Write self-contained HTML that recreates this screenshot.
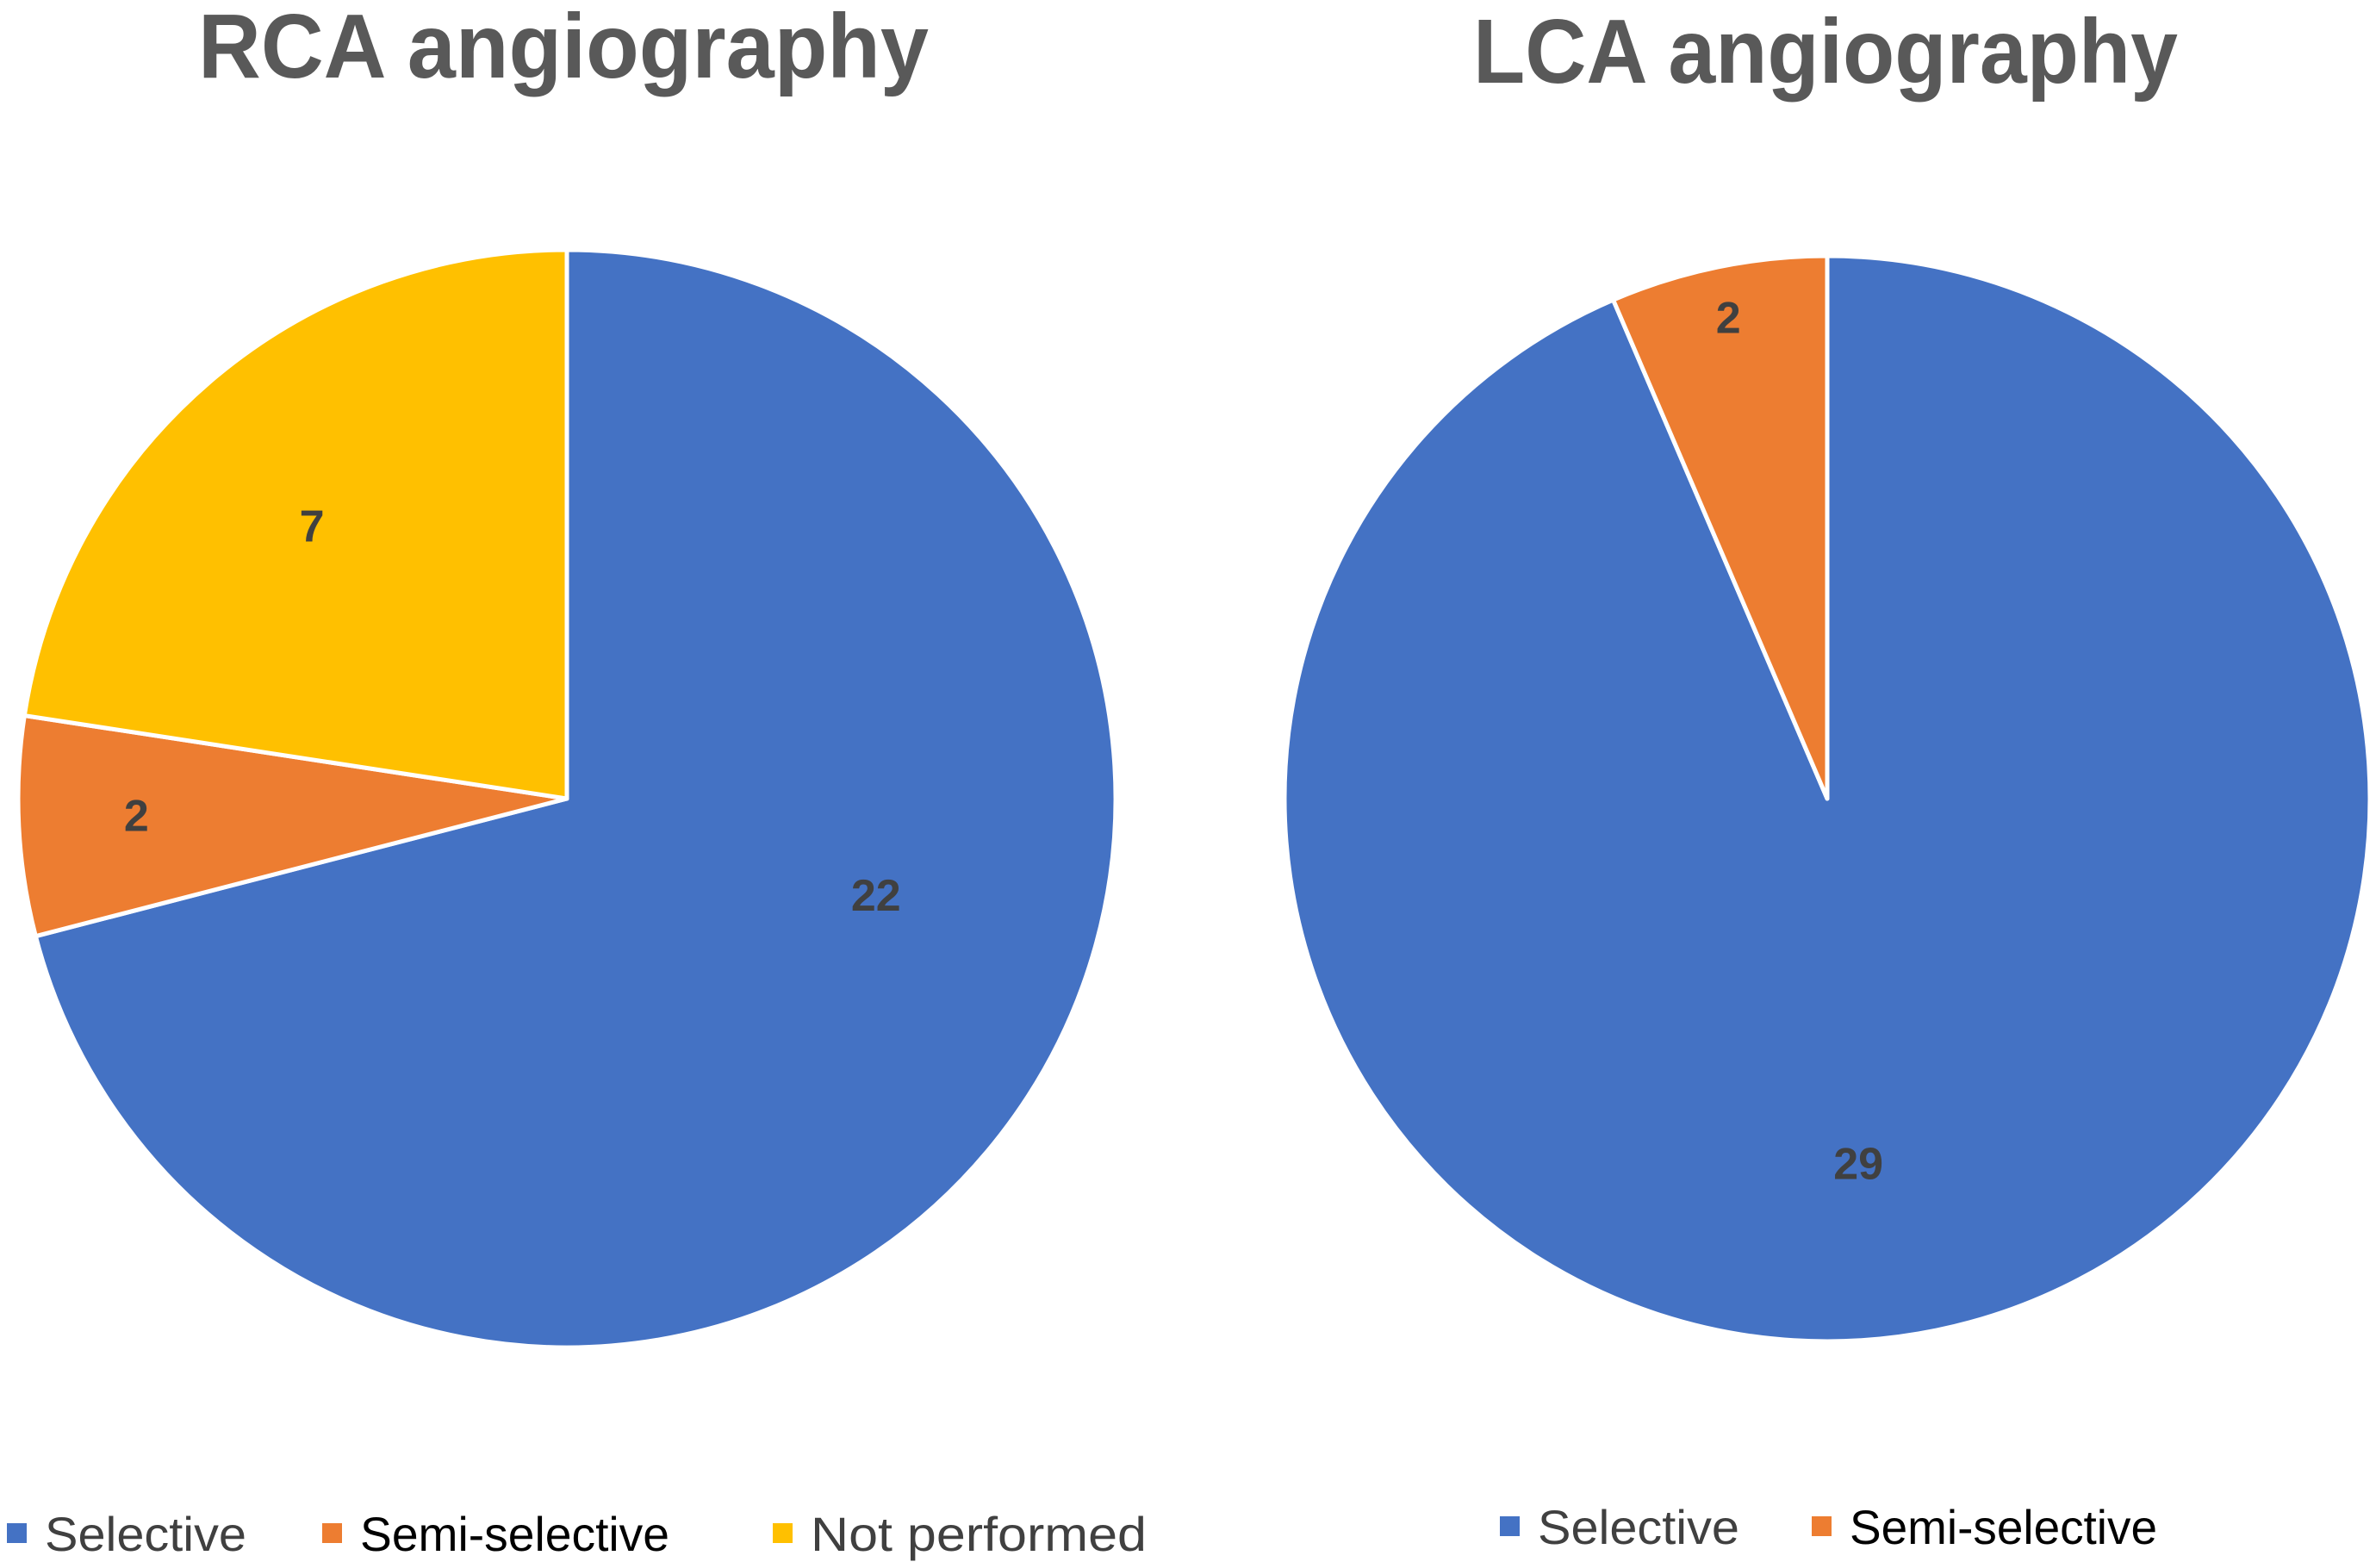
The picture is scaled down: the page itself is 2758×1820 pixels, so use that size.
<!DOCTYPE html>
<html><head><meta charset="utf-8"><style>
html,body{margin:0;padding:0;background:#fff;}
svg{display:block;}
</style></head><body>
<svg id="chart" width="2758" height="1820" viewBox="0 0 2758 1820" xmlns="http://www.w3.org/2000/svg">
<rect width="2758" height="1820" fill="#fff"/>
<text x="654" y="90" text-anchor="middle" font-family="Liberation Sans, sans-serif" font-weight="bold" font-size="106" fill="#595959" textLength="848" lengthAdjust="spacingAndGlyphs">RCA  angiography</text>
<text x="2119" y="96" text-anchor="middle" font-family="Liberation Sans, sans-serif" font-weight="bold" font-size="106" fill="#595959" textLength="818" lengthAdjust="spacingAndGlyphs">LCA angiography</text>
<g id="pies"></g>
<g id="legends"></g>
</svg>
<script>
const colors = ["#4472C4", "#ED7D31", "#FFC000"];
const rcaCategories = ["Selective", "Semi-selective", "Not performed"];
const rcaValues = [22, 2, 7];
const lcaCategories = ["Selective", "Semi-selective"];
const lcaValues = [29, 2];

const NS = "http://www.w3.org/2000/svg";
const pies = document.getElementById("pies");

function drawPie(name, cats, vals, cx, cy, r, labelFrac, labelT) {
  const total = vals.reduce((a, b) => a + b, 0);
  let a0 = 0;
  const g = document.createElementNS(NS, "g");
  
  
  pies.appendChild(g);
  vals.forEach((v, i) => {
    const a1 = a0 + v / total * Math.PI * 2;
    const x0 = cx + r * Math.sin(a0), y0 = cy - r * Math.cos(a0);
    const x1 = cx + r * Math.sin(a1), y1 = cy - r * Math.cos(a1);
    const large = (a1 - a0) > Math.PI ? 1 : 0;
    const p = document.createElementNS(NS, "path");
    p.setAttribute("d", `M${cx},${cy} L${x0},${y0} A${r},${r} 0 ${large} 1 ${x1},${y1} Z`);
    p.setAttribute("fill", colors[i]);
    p.setAttribute("stroke", "#fff");
    p.setAttribute("stroke-width", "5");
    p.setAttribute("stroke-linejoin", "round");
    
    
    g.appendChild(p);
    const am = a0 + (a1 - a0) * labelT[i];
    const lr = r * labelFrac[i];
    const t = document.createElementNS(NS, "text");
    t.setAttribute("x", cx + lr * Math.sin(am));
    t.setAttribute("y", cy - lr * Math.cos(am) + 18);
    t.setAttribute("text-anchor", "middle");
    t.setAttribute("font-family", "Liberation Sans, sans-serif");
    t.setAttribute("font-weight", "bold");
    t.setAttribute("font-size", "52");
    t.setAttribute("fill", "#404040");
    
    
    t.textContent = v;
    g.appendChild(t);
    a0 = a1;
  });
}
drawPie("rca-pie", rcaCategories, rcaValues, 658, 927, 637, [0.59, 0.785, 0.68], [0.42, 0.53, 0.47]);
drawPie("lca-pie", lcaCategories, lcaValues, 2121, 927, 630, [0.675, 0.905], [0.52, 0.5]);

const legends = document.getElementById("legends");
function drawLegend(name, cats, xs, widths, y) {
  const g = document.createElementNS(NS, "g");
  
  
  legends.appendChild(g);
  cats.forEach((c, i) => {
    const r = document.createElementNS(NS, "rect");
    r.setAttribute("x", xs[i]); r.setAttribute("y", y - 32);
    r.setAttribute("width", 23); r.setAttribute("height", 23);
    r.setAttribute("fill", colors[i]);
    
    
    g.appendChild(r);
    const t = document.createElementNS(NS, "text");
    t.setAttribute("x", xs[i] + 44); t.setAttribute("y", y);
    t.setAttribute("font-family", "Liberation Sans, sans-serif");
    t.setAttribute("font-size", "56");
    t.setAttribute("fill", i === 1 ? "#000" : "#404040");
    t.setAttribute("textLength", widths[i]);
    t.setAttribute("lengthAdjust", "spacingAndGlyphs");
    
    
    t.textContent = c;
    g.appendChild(t);
  });
}
drawLegend("rca-legend", rcaCategories, [8, 374, 897], [234, 359, 390], 1800);
drawLegend("lca-legend", lcaCategories, [1741, 2103], [234, 357], 1792);
</script>
</body></html>
